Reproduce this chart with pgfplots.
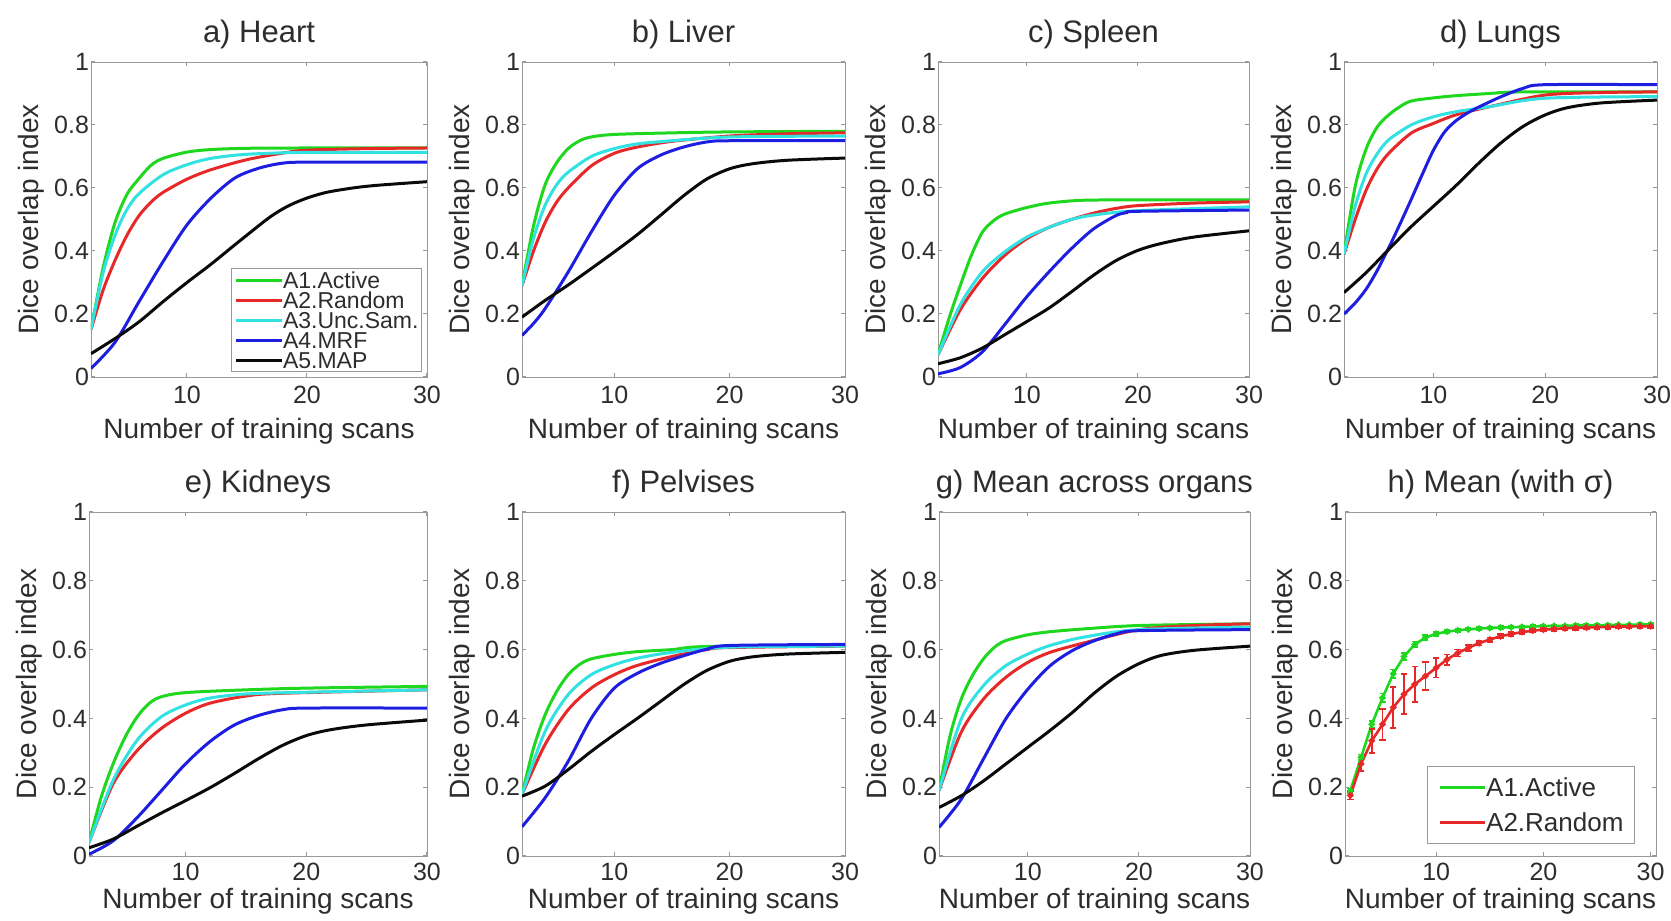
\documentclass[border=0pt]{standalone}
\usepackage{fontspec}
\setmainfont{Liberation Sans}
\usepackage{pgfplots}
\pgfplotsset{compat=1.18}
\definecolor{cG}{RGB}{30,215,30}
\definecolor{cR}{RGB}{230,40,40}
\definecolor{cC}{RGB}{50,225,225}
\definecolor{cB}{RGB}{30,30,225}
\definecolor{cK}{RGB}{10,10,10}
\definecolor{txt}{RGB}{45,45,45}
\pgfplotsset{
  panel/.style={
    scale only axis,
    xmin=2, xmax=30, ymin=0, ymax=1,
    xtick={10,20,30}, ytick={0,0.2,0.4,0.6,0.8,1},
    yticklabels={0,0.2,0.4,0.6,0.8,1},
    axis line style={draw=gray!80},
    tick style={draw=gray!80, line width=0.5pt},
    major tick length=2pt,
    /pgf/number format/assume math mode=true,
    tick label style={font=\fontsize{12.5}{13}\selectfont, text=txt},
    yticklabel style={xshift=2.5pt},
    xlabel={Number of training scans},
    ylabel={Dice overlap index},
    label style={font=\fontsize{14}{15}\selectfont, text=txt},
    title style={font=\fontsize{15.5}{16}\selectfont, text=txt, yshift=-3pt},
    ylabel style={yshift=-2pt},
    every axis plot/.append style={line width=1.5pt, smooth},
    legend style={draw=gray!80, font=\fontsize{11.5}{10}\selectfont, text=txt,
      inner sep=1.5pt, row sep=1.5pt, cells={anchor=west},
      nodes={inner sep=0pt, text height=8.3pt, text depth=0.2pt}},
    legend image code/.code={\draw[#1, mark=none, line width=1.5pt] (0pt,0pt) -- (23pt,0pt);},
    anchor=south west,
  },
  top/.style={panel, xlabel style={yshift=0pt}, xticklabel style={yshift=-1.2pt}},
  bot/.style={panel, xlabel style={yshift=3pt}},
}
\begin{document}
\begin{tikzpicture}
\useasboundingbox (0,0) rectangle (835.5pt,460.5pt);
% a) Heart
\begin{axis}[top, at={(45.5pt,272pt)}, width=168pt, height=157.5pt, title={a) Heart},
  legend style={at={(0.985,0.016)}, anchor=south east}]
\addplot[cG] coordinates {(2,0.15)(3,0.345)(4,0.49)(5,0.58)(6,0.63)(7,0.672)(8,0.694)(10,0.714)(12,0.722)(15,0.726)(20,0.727)(30,0.727)};
\addplot[cR] coordinates {(2,0.15)(3,0.275)(4,0.37)(5,0.45)(6,0.512)(7,0.555)(8,0.586)(10,0.628)(12,0.658)(15,0.69)(18,0.711)(20,0.72)(25,0.725)(30,0.727)};
\addplot[cC] coordinates {(2,0.15)(3,0.33)(4,0.45)(5,0.532)(6,0.582)(8,0.642)(10,0.674)(12,0.694)(15,0.707)(20,0.713)(30,0.713)};
\addplot[cB] coordinates {(2,0.027)(4,0.11)(6,0.239)(8,0.366)(10,0.483)(12,0.568)(14,0.632)(16,0.663)(18,0.679)(20,0.682)(30,0.682)};
\addplot[cK] coordinates {(2,0.074)(4,0.122)(6,0.175)(8,0.239)(10,0.30)(12,0.358)(14,0.42)(16,0.481)(17,0.51)(18,0.534)(19,0.553)(20,0.568)(21,0.58)(22,0.589)(24,0.601)(26,0.609)(30,0.62)};
\legend{A1.Active,A2.Random,A3.Unc.Sam.,A4.MRF,A5.MAP}
\end{axis}
% b) Liver
\begin{axis}[top, at={(261pt,272pt)}, width=161.5pt, height=157.5pt, title={b) Liver}]
\addplot[cG] coordinates {(2,0.29)(3,0.48)(4,0.61)(5,0.68)(6,0.725)(7,0.75)(8,0.762)(10,0.77)(15,0.775)(20,0.778)(30,0.78)};
\addplot[cR] coordinates {(2,0.29)(3,0.40)(4,0.49)(5,0.555)(6,0.60)(8,0.67)(10,0.71)(12,0.73)(15,0.748)(20,0.765)(25,0.772)(30,0.775)};
\addplot[cC] coordinates {(2,0.29)(3,0.44)(4,0.545)(5,0.61)(6,0.65)(8,0.70)(10,0.725)(12,0.74)(15,0.75)(20,0.762)(30,0.765)};
\addplot[cB] coordinates {(2,0.132)(3,0.17)(4,0.217)(6,0.333)(8,0.46)(10,0.577)(12,0.661)(14,0.704)(16,0.73)(18,0.746)(20,0.75)(30,0.75)};
\addplot[cK] coordinates {(2,0.19)(4,0.243)(6,0.292)(8,0.344)(10,0.397)(12,0.452)(14,0.513)(16,0.575)(18,0.628)(20,0.661)(22,0.677)(25,0.688)(30,0.695)};
\end{axis}
% c) Spleen
\begin{axis}[top, at={(469pt,272pt)}, width=155.5pt, height=157.5pt, title={c) Spleen}]
\addplot[cG] coordinates {(2,0.071)(3,0.187)(4,0.29)(5,0.386)(6,0.46)(7,0.496)(8,0.517)(10,0.538)(12,0.552)(15,0.561)(20,0.562)(30,0.562)};
\addplot[cR] coordinates {(2,0.07)(4,0.213)(6,0.313)(8,0.386)(10,0.439)(12,0.475)(14,0.50)(16,0.52)(18,0.535)(20,0.544)(25,0.552)(30,0.556)};
\addplot[cC] coordinates {(2,0.07)(4,0.229)(6,0.334)(8,0.397)(10,0.444)(12,0.475)(14,0.50)(16,0.514)(20,0.528)(30,0.54)};
\addplot[cB] coordinates {(2,0.01)(4,0.03)(6,0.08)(8,0.166)(10,0.255)(12,0.334)(14,0.407)(16,0.47)(18,0.512)(19,0.522)(20,0.526)(30,0.53)};
\addplot[cK] coordinates {(2,0.042)(4,0.061)(6,0.092)(8,0.134)(10,0.176)(12,0.219)(14,0.27)(16,0.323)(18,0.369)(20,0.402)(22,0.423)(25,0.444)(30,0.464)};
\end{axis}
% d) Lungs
\begin{axis}[top, at={(672pt,272pt)}, width=156.5pt, height=157.5pt, title={d) Lungs}]
\addplot[cG] coordinates {(2,0.39)(3,0.605)(4,0.726)(5,0.795)(6,0.832)(7,0.858)(8,0.876)(10,0.886)(12,0.893)(15,0.90)(18,0.905)(30,0.905)};
\addplot[cR] coordinates {(2,0.39)(3,0.50)(4,0.595)(5,0.663)(6,0.71)(8,0.774)(10,0.805)(12,0.832)(15,0.858)(20,0.895)(25,0.903)(30,0.905)};
\addplot[cC] coordinates {(2,0.39)(3,0.542)(4,0.647)(5,0.71)(6,0.753)(8,0.80)(10,0.826)(12,0.842)(15,0.858)(20,0.885)(30,0.89)};
\addplot[cB] coordinates {(2,0.2)(3,0.235)(4,0.28)(5,0.34)(6,0.41)(7,0.485)(8,0.563)(9,0.643)(10,0.72)(11,0.778)(12,0.813)(13,0.837)(14,0.856)(16,0.889)(18,0.916)(20,0.928)(30,0.928)};
\addplot[cK] coordinates {(2,0.268)(4,0.332)(6,0.405)(8,0.477)(10,0.542)(12,0.607)(14,0.677)(16,0.742)(18,0.795)(20,0.832)(22,0.855)(25,0.87)(30,0.879)};
\end{axis}
% e) Kidneys
\begin{axis}[bot, at={(44.5pt,32.5pt)}, width=169pt, height=172pt, title={e) Kidneys}]
\addplot[cG] coordinates {(2,0.039)(3,0.17)(4,0.268)(5,0.346)(6,0.405)(7,0.444)(8,0.463)(10,0.475)(15,0.483)(20,0.488)(30,0.493)};
\addplot[cR] coordinates {(2,0.039)(4,0.21)(6,0.307)(8,0.371)(10,0.415)(12,0.444)(15,0.465)(18,0.473)(30,0.483)};
\addplot[cC] coordinates {(2,0.039)(4,0.22)(6,0.337)(8,0.405)(10,0.439)(12,0.459)(15,0.471)(20,0.476)(30,0.483)};
\addplot[cB] coordinates {(2,0.005)(4,0.044)(6,0.112)(8,0.19)(10,0.268)(12,0.332)(14,0.38)(16,0.408)(18,0.425)(20,0.43)(30,0.43)};
\addplot[cK] coordinates {(2,0.024)(4,0.049)(6,0.087)(8,0.125)(10,0.161)(12,0.198)(14,0.239)(16,0.282)(18,0.321)(20,0.35)(22,0.367)(25,0.381)(30,0.395)};
\end{axis}
% f) Pelvises
\begin{axis}[bot, at={(261pt,32.5pt)}, width=161.5pt, height=172pt, title={f) Pelvises}]
\addplot[cG] coordinates {(2,0.179)(3,0.314)(4,0.41)(5,0.478)(6,0.527)(7,0.557)(8,0.573)(10,0.586)(12,0.594)(15,0.60)(18,0.609)(30,0.613)};
\addplot[cR] coordinates {(2,0.179)(4,0.324)(6,0.425)(8,0.488)(10,0.527)(12,0.554)(15,0.58)(18,0.60)(20,0.606)(30,0.61)};
\addplot[cC] coordinates {(2,0.179)(4,0.362)(6,0.469)(8,0.527)(10,0.556)(12,0.575)(15,0.592)(20,0.607)(30,0.61)};
\addplot[cB] coordinates {(2,0.085)(4,0.169)(6,0.275)(8,0.40)(10,0.488)(12,0.531)(14,0.56)(16,0.582)(18,0.601)(20,0.612)(30,0.615)};
\addplot[cK] coordinates {(2,0.174)(4,0.203)(6,0.251)(8,0.304)(10,0.353)(12,0.40)(14,0.449)(16,0.498)(18,0.539)(20,0.566)(22,0.579)(25,0.587)(30,0.592)};
\end{axis}
% g) Mean across organs
\begin{axis}[bot, at={(469.5pt,32.5pt)}, width=155.5pt, height=172pt, title={g) Mean across organs}]
\addplot[cG] coordinates {(2,0.19)(3,0.35)(4,0.456)(5,0.524)(6,0.573)(7,0.607)(8,0.626)(10,0.643)(12,0.652)(15,0.66)(20,0.67)(30,0.675)};
\addplot[cR] coordinates {(2,0.19)(4,0.36)(6,0.456)(8,0.519)(10,0.563)(12,0.592)(15,0.619)(20,0.658)(25,0.67)(30,0.675)};
\addplot[cC] coordinates {(2,0.19)(4,0.398)(6,0.495)(8,0.553)(10,0.587)(12,0.612)(15,0.636)(20,0.658)(30,0.665)};
\addplot[cB] coordinates {(2,0.083)(4,0.165)(6,0.282)(8,0.398)(10,0.485)(12,0.553)(14,0.597)(16,0.626)(18,0.646)(20,0.655)(30,0.658)};
\addplot[cK] coordinates {(2,0.141)(4,0.175)(6,0.218)(8,0.267)(10,0.316)(12,0.365)(14,0.417)(16,0.474)(18,0.523)(20,0.559)(22,0.583)(25,0.598)(30,0.61)};
\end{axis}
% h) Mean (with sigma)
\begin{axis}[bot, at={(672.5pt,32.5pt)}, width=155.5pt, height=172pt, title={h) Mean (with σ)},
  xmin=1.5, xmax=30.5,
  legend style={at={(0.932,0.035)}, anchor=south east, inner sep=5.5pt, row sep=7.5pt,
    font=\fontsize{13}{12}\selectfont,
    nodes={inner sep=0pt, text height=9.4pt, text depth=0.6pt}},
  legend image code/.code={\draw[#1, mark=none, line width=1.3pt, solid] (0pt,0pt) -- (22.5pt,0pt);}]
\addplot[cG, line width=1.3pt, sharp plot, mark=*, mark size=0.9pt,
  error bars/.cd, y dir=both, y explicit, error bar style={line width=0.8pt}, error mark options={rotate=90, mark size=1.5pt, line width=0.8pt}]
 coordinates {(2,0.19)+-(0,0.006)(3,0.287)+-(0,0.008)(4,0.383)+-(0,0.01)(5,0.46)+-(0,0.012)(6,0.53)+-(0,0.012)(7,0.58)+-(0,0.01)(8,0.615)+-(0,0.008)(9,0.635)+-(0,0.007)(10,0.646)+-(0,0.006)(11,0.652)+-(0,0.005)(12,0.656)+-(0,0.005)(13,0.659)+-(0,0.004)(14,0.661)+-(0,0.004)(15,0.663)+-(0,0.004)(16,0.664)+-(0,0.004)(17,0.665)+-(0,0.004)(18,0.666)+-(0,0.004)(19,0.667)+-(0,0.004)(20,0.668)+-(0,0.004)(21,0.669)+-(0,0.004)(22,0.669)+-(0,0.004)(23,0.67)+-(0,0.004)(24,0.67)+-(0,0.004)(25,0.671)+-(0,0.004)(26,0.671)+-(0,0.004)(27,0.672)+-(0,0.004)(28,0.672)+-(0,0.004)(29,0.673)+-(0,0.004)(30,0.673)+-(0,0.004)};
\addplot[cR, line width=1.3pt, sharp plot, mark=*, mark size=0.9pt,
  error bars/.cd, y dir=both, y explicit, error bar style={line width=0.9pt}, error mark options={rotate=90, mark size=1.6pt, line width=0.9pt}]
 coordinates {(2,0.176)+-(0,0.012)(3,0.268)+-(0,0.02)(4,0.335)+-(0,0.035)(5,0.383)+-(0,0.045)(6,0.432)+-(0,0.06)(7,0.47)+-(0,0.058)(8,0.499)+-(0,0.052)(9,0.523)+-(0,0.04)(10,0.547)+-(0,0.028)(11,0.571)+-(0,0.015)(12,0.59)+-(0,0.01)(13,0.605)+-(0,0.008)(14,0.619)+-(0,0.007)(15,0.629)+-(0,0.006)(16,0.639)+-(0,0.006)(17,0.645)+-(0,0.005)(18,0.651)+-(0,0.005)(19,0.655)+-(0,0.005)(20,0.658)+-(0,0.005)(21,0.66)+-(0,0.005)(22,0.662)+-(0,0.005)(23,0.663)+-(0,0.005)(24,0.664)+-(0,0.005)(25,0.665)+-(0,0.005)(26,0.666)+-(0,0.005)(27,0.667)+-(0,0.005)(28,0.667)+-(0,0.005)(29,0.668)+-(0,0.005)(30,0.668)+-(0,0.005)};
\legend{A1.Active,A2.Random}
\end{axis}
\end{tikzpicture}
\end{document}
